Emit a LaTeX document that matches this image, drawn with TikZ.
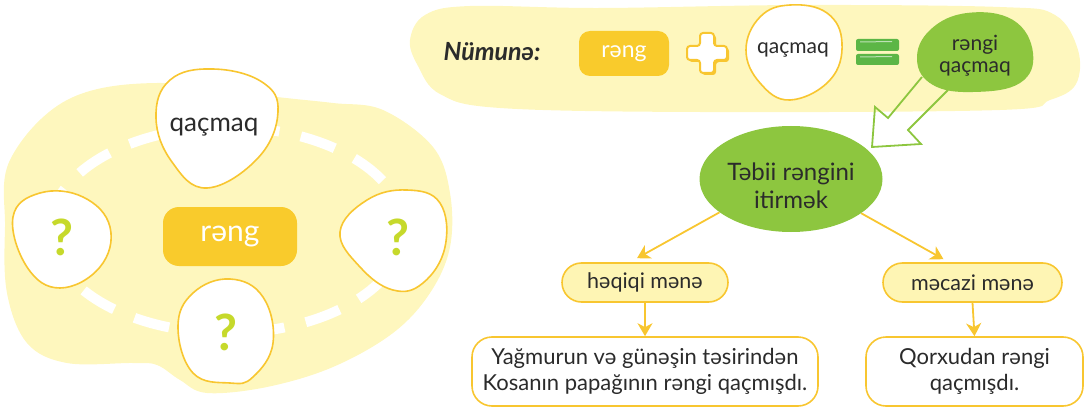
\documentclass[tikz,border=0pt]{standalone}
\usepackage{fontspec}
\setmainfont{Lato}
\usetikzlibrary{arrows.meta,shapes.geometric}
\definecolor{paleyellow}{HTML}{FEF7BE}
\definecolor{gold}{HTML}{F8C630}
\definecolor{goldfill}{HTML}{F9CB2C}
\definecolor{lgreen}{HTML}{8DC63F}
\definecolor{eqgreen}{HTML}{5CB646}
\definecolor{qgreen}{HTML}{C6D92B}
\definecolor{pill}{HTML}{FEF5B4}
\definecolor{dark}{HTML}{2B2B2B}
\tikzset{
  bubble/.style={draw=gold, line width=1.6pt, fill=white},
  qmark/.style={font=\fontsize{50}{50}\selectfont\bfseries, text=qgreen, inner sep=0pt},
  word/.style={font=\fontsize{26}{26}\selectfont, text=dark, inner sep=0pt},
  goldbox/.style={rectangle, fill=goldfill, text=white, inner sep=0pt},
  pillbox/.style={rectangle, fill=pill, draw=gold, line width=1.6pt, rounded corners=19.5pt,
    minimum height=39pt, inner sep=0pt, font=\fontsize{21.5}{21.5}\selectfont, text=dark},
  textbox/.style={rectangle, fill=white, draw=gold, line width=1.6pt, rounded corners=20pt,
    minimum height=69pt, inner sep=0pt, align=center, font=\fontsize{22}{25.5}\selectfont, text=dark},
  yarrow/.style={draw=gold, line width=1.8pt, -{Stealth[length=13pt,width=15pt,inset=4pt]}},
}
\begin{document}
\begin{tikzpicture}[x=1pt,y=-1pt]
\useasboundingbox (0,0) rectangle (1089,409);
% top right band
\fill[paleyellow] plot[smooth cycle, tension=0.6] coordinates {(410,40) (425,15) (470,6) (600,8) (800,5) (1000,7) (1055,15) (1078,50) (1076,84) (1050,100) (1000,110) (700,112) (500,108) (440,94) (418,66)};
% left blob
\fill[paleyellow] plot[smooth cycle, tension=0.6] coordinates {(10,160) (67,100) (157,83) (277,97) (333,103) (383,110) (433,147) (450,193) (450,247) (430,293) (393,333) (333,367) (267,387) (207,393) (180,380) (157,365) (133,363) (67,363) (27,343) (7,293) (5,227)};
% dashed ring
\draw[white, line width=10pt, dash pattern=on 36pt off 22pt, dash phase=8pt] (227,230) ellipse [x radius=177, y radius=103];
% bubbles (left)
\draw[bubble] plot[smooth cycle, tension=0.7] coordinates {(156,118) (170,80) (213,69) (262,82) (278,112) (258,158) (207,188) (172,162)};
\draw[bubble] plot[smooth cycle, tension=0.7] coordinates {(13,217) (40,193) (83,197) (110,227) (100,267) (60,288) (27,267)};
\draw[bubble] plot[smooth cycle, tension=0.7] coordinates {(340,232) (367,200) (407,190) (440,203) (445,247) (423,283) (393,290) (360,267)};
\draw[bubble] plot[smooth cycle, tension=0.7] coordinates {(178,327) (193,293) (230,279) (263,297) (273,343) (253,377) (230,383) (193,373)};
\node[word] (qtop) at (214,127) {qaçmaq};
\node[qmark] (qleft) at (62,237) {?};
\node[qmark] (qright) at (398,237) {?};
\node[qmark] (qbottom) at (226,332) {?};
\node[goldbox, minimum width=134pt, minimum height=59pt, rounded corners=16pt, font=\fontsize{30}{30}\selectfont] (rbig) at (230,236.5) {rəng};
% example row
\node[font=\fontsize{25}{25}\selectfont\bfseries\itshape, text=dark, inner sep=0pt] (nm) at (492,52) {Nümunə:};
\node[goldbox, minimum width=90pt, minimum height=45pt, rounded corners=11pt, font=\fontsize{23}{23}\selectfont] (rsmall) at (624,53.5) {rəng};
% plus
\fill[gold, rounded corners=3pt] (702,35) -- (716,35) -- (716,48) -- (729,48) -- (729,62) -- (716,62) -- (716,75) -- (702,75) -- (702,62) -- (689,62) -- (689,48) -- (702,48) -- cycle;
\draw[fill=white, draw=gold, line width=2pt, rounded corners=3pt] (700,33) -- (714,33) -- (714,46) -- (727,46) -- (727,60) -- (714,60) -- (714,73) -- (700,73) -- (700,60) -- (687,60) -- (687,46) -- (700,46) -- cycle;
% qaçmaq bubble in band
\draw[bubble] plot[smooth cycle, tension=0.7] coordinates {(746,50) (760,17) (790,5) (827,13) (842,43) (830,80) (790,100) (760,83)};
\node[word, font=\fontsize{21}{21}\selectfont] (qband) at (793,50) {qaçmaq};
% equals
\fill[eqgreen, rounded corners=2pt] (856,39) rectangle (899,51);
\fill[eqgreen, rounded corners=2pt] (856,54) rectangle (899,65);
\draw[white, opacity=0.6, line width=1pt] (860,42) -- (892,41.5);
\draw[white, opacity=0.6, line width=1pt] (860,57) -- (892,56.5);
% hollow green arrow
\draw[lgreen, line width=1.8pt, line join=miter] (922,77) -- (888,118) -- (875,107) -- (872,147) -- (921,144) -- (908,130) -- (948,90);
% green bubble
\fill[lgreen] plot[smooth cycle, tension=0.7] coordinates {(917,60) (930,30) (967,13) (1013,20) (1033,53) (1020,83) (973,92) (933,85)};
\node[align=center, font=\fontsize{21}{22}\selectfont, text=dark, inner sep=0pt] (rq) at (975,56) {rəngi\\qaçmaq};
% tree
\node[ellipse, fill=lgreen, minimum width=183pt, minimum height=106pt, inner sep=0pt] (tb) at (791,179) {};
\node[align=center, font=\fontsize{24}{28}\selectfont, text=dark, inner sep=0pt] (tbt) at (791,186) {Təbii rəngini\\itirmək};
\node[pillbox, minimum width=166pt] (hq) at (645,282.5) {həqiqi mənə};
\node[pillbox, minimum width=179pt] (mc) at (972.5,282.5) {məcazi mənə};
\node[textbox, minimum width=346pt] (bl) at (645,371.5) {Yağmurun və günəşin təsirindən\\Kosanın papağının rəngi qaçmışdı.};
\node[textbox, minimum width=217pt] (br) at (974.5,371.5) {Qorxudan rəngi\\qaçmışdı.};
\draw[yarrow] (tb.205) -- ([xshift=-8pt, yshift=4pt]hq.north);
\draw[yarrow] (tb.334) -- ([xshift=-29pt, yshift=3pt]mc.north);
\draw[yarrow] (hq.south) -- (bl.north);
\draw[yarrow] (mc.south) -- (br.north);
\end{tikzpicture}
\end{document}
